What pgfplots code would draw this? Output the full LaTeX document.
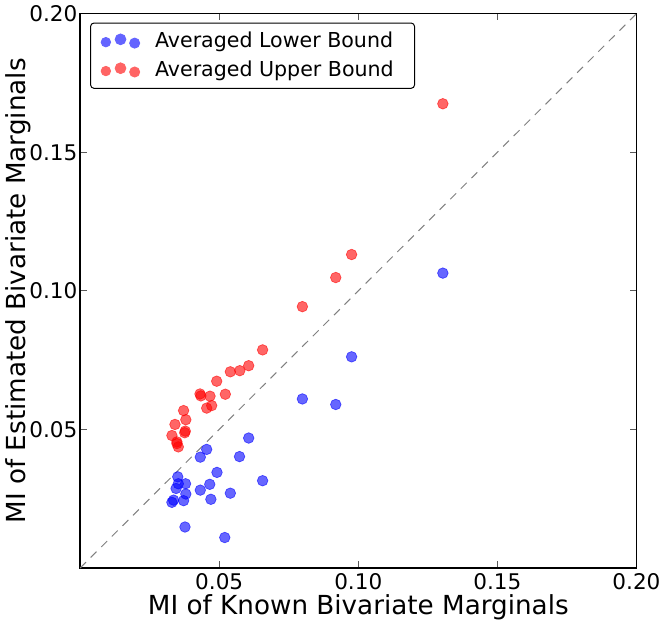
\documentclass[border=0pt]{standalone}
\usepackage{pgfplots}
\pgfplotsset{compat=1.18}
\usepackage{fontspec}
\setmainfont{DejaVu Sans}
\definecolor{bluept}{RGB}{100,100,255}
\definecolor{redpt}{RGB}{255,100,100}
\begin{document}
\begin{tikzpicture}
\begin{axis}[
  width=335.4pt, height=334.2pt, scale only axis,
  xmin=0, xmax=0.2, ymin=0, ymax=0.2,
  xtick={0.05,0.10,0.15,0.20}, ytick={0.05,0.10,0.15,0.20},
  xticklabels={0.05,0.10,0.15,0.20}, yticklabels={0.05,0.10,0.15,0.20},
  tick align=inside, major tick length=4pt,
  tick style={gray!70!black, line width=0.5pt},
  axis line style={line width=0.9pt},
  ticklabel style={font=\fontsize{13}{15}\selectfont},
  yticklabel style={inner xsep=1.5pt},
  xlabel={MI of Known Bivariate Marginals},
  ylabel={MI of Estimated Bivariate Marginals},
  label style={font=\fontsize{15.8}{18}\selectfont},
  xlabel style={yshift=4pt},
  ylabel style={yshift=-6pt},
  legend style={at={(0.018,0.984)}, anchor=north west, draw=black, line width=0.6pt,
    font=\fontsize{12.4}{15}\selectfont, rounded corners=2pt, inner sep=3.5pt,
    row sep=2.5pt, nodes={inner xsep=9pt}},
  legend cell align=left,
]
\addplot[gray, dashed, line width=0.6pt, dash pattern=on 5pt off 4pt, forget plot] coordinates {(0,0) (0.2,0.2)};
\addplot[only marks, mark=*, mark size=3.2pt, color=blue, mark options={fill=blue, opacity=0.6},
  legend image code/.code={
    \path[draw=none, fill=none] (-0.2cm,0cm) rectangle (0.1cm,0.01cm);
    \fill[bluept] (0.0cm,-0.02cm) circle (2.8pt);
    \fill[bluept] (0.31cm,0.04cm) circle (3.2pt);
    \fill[bluept] (0.61cm,-0.04cm) circle (3.0pt);
  }] coordinates {
(0.0606,0.0469) (0.0455,0.0428) (0.0432,0.0400) (0.0573,0.0402)
(0.0492,0.0345) (0.0351,0.0329) (0.0466,0.0302) (0.0656,0.0315)
(0.0353,0.0304) (0.0379,0.0304) (0.0345,0.0287) (0.0432,0.0281)
(0.0380,0.0267) (0.0540,0.0270) (0.0470,0.0248) (0.0336,0.0245)
(0.0372,0.0243) (0.0330,0.0237) (0.0377,0.0148) (0.0520,0.0110)
(0.0799,0.0610) (0.0919,0.0590) (0.0976,0.0762) (0.1304,0.1064)
};
\addlegendentry{Averaged Lower Bound}
\addplot[only marks, mark=*, mark size=3.2pt, color=red, mark options={fill=red, opacity=0.6},
  legend image code/.code={
    \path[draw=none, fill=none] (-0.2cm,0cm) rectangle (0.1cm,0.01cm);
    \fill[redpt] (0.0cm,-0.02cm) circle (2.8pt);
    \fill[redpt] (0.31cm,0.04cm) circle (3.2pt);
    \fill[redpt] (0.61cm,-0.04cm) circle (3.0pt);
  }] coordinates {
(0.0656,0.0787) (0.0606,0.0730) (0.0574,0.0712) (0.0540,0.0708)
(0.0491,0.0674) (0.0522,0.0627) (0.0431,0.0628) (0.0434,0.0621)
(0.0467,0.0620) (0.0473,0.0586) (0.0455,0.0577) (0.0372,0.0568)
(0.0380,0.0535) (0.0341,0.0518) (0.0378,0.0494) (0.0376,0.0488)
(0.0330,0.0478) (0.0348,0.0455) (0.0353,0.0437) (0.0348,0.0449)
(0.0799,0.0943) (0.0919,0.1048) (0.0976,0.1131) (0.1304,0.1675)
};
\addlegendentry{Averaged Upper Bound}
\end{axis}
\end{tikzpicture}
\end{document}
